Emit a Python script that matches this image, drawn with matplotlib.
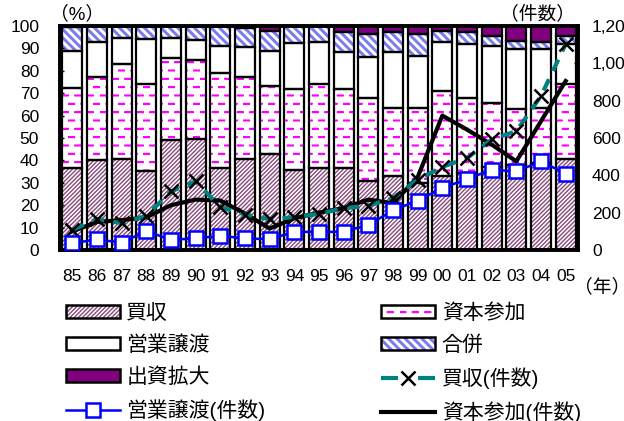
import numpy as np
import matplotlib
matplotlib.use("Agg")
import matplotlib.pyplot as plt
import matplotlib.hatch as mhatch
from matplotlib.path import Path
from matplotlib.patches import Patch
from matplotlib.lines import Line2D

plt.rcParams['font.family'] = ['Liberation Sans', 'Noto Sans CJK JP']
plt.rcParams['hatch.linewidth'] = 1.0

years = ['85', '86', '87', '88', '89', '90', '91', '92', '93', '94', '95',
         '96', '97', '98', '99', '00', '01', '02', '03', '04', '05']

# share of each form (%), stacked bottom -> top
kaishu_pct  = [36.6, 40.0, 40.5, 35.1, 49.3, 49.5, 36.6, 40.7, 43.0, 35.8, 36.4,
               36.8, 30.9, 32.9, 30.0, 33.0, 34.5, 37.0, 38.0, 39.0, 40.5]
shihon_pct  = [35.5, 37.4, 42.5, 38.9, 36.2, 35.3, 42.3, 36.5, 30.2, 35.9, 37.6,
               35.2, 37.1, 30.3, 33.2, 38.0, 33.5, 28.8, 24.8, 24.5, 33.5]
eigyo_pct   = [16.6, 15.3, 11.6, 20.2, 9.1, 9.1, 12.3, 13.4, 15.7, 20.5, 18.8,
               16.3, 18.2, 25.2, 23.5, 21.7, 23.9, 25.4, 26.9, 26.2, 18.0]
gappei_pct  = [10.8, 7.3, 5.4, 5.8, 5.4, 6.1, 8.8, 8.6, 8.9, 7.8, 7.2,
               9.0, 10.3, 8.8, 9.7, 5.2, 5.3, 4.5, 3.7, 3.3, 3.7]
shusshi_pct = [0.5, 0.0, 0.0, 0.0, 0.0, 0.0, 0.0, 0.8, 2.2, 0.0, 0.0,
               2.7, 3.5, 2.8, 3.6, 2.1, 2.8, 4.3, 6.6, 7.0, 4.3]

# number of deals (right axis)
kaishu_cnt = [108, 165, 144, 183, 314, 368, 230, 190, 165, 176, 194,
              224, 237, 278, 377, 445, 493, 592, 637, 825, 1103]
eigyo_cnt  = [36, 57, 39, 102, 54, 63, 75, 63, 57, 99, 95,
              99, 134, 212, 265, 332, 380, 430, 421, 475, 409]
shihon_cnt = [100, 150, 160, 175, 240, 270, 265, 195, 115, 170, 200,
              225, 270, 250, 390, 720, 645, 565, 475, 690, 905]


class DashRowHatch(mhatch.HatchPatternBase):
    # rows of short staggered dashes in place of full horizontal lines
    def __init__(self, hatch, density):
        self.num_rows = int((hatch.count('-') + hatch.count('+')) * density)
        self.per_row = 8
        self.offsets = (0.0, 0.007)
        self.num_vertices = self.num_rows * self.per_row * 2 * len(self.offsets)

    def set_vertices_and_codes(self, vertices, codes):
        step = 1.0 / self.per_row
        k = 0
        for r in range(self.num_rows):
            y = (r + 0.5) / self.num_rows
            shift = step / 2 if r % 2 else 0.0
            for c in range(self.per_row):
                x0 = c * step + shift
                for dy in self.offsets:
                    vertices[k] = (x0, y + dy)
                    vertices[k + 1] = (x0 + step * 0.45, y + dy)
                    codes[k] = Path.MOVETO
                    codes[k + 1] = Path.LINETO
                    k += 2


class BandHatch(mhatch.HatchPatternBase):
    # '\' stripes drawn as bands of three close lines
    def __init__(self, hatch, density):
        self.num_bands = int((hatch.count('\\') + hatch.count('x') + hatch.count('X')) * density)
        self.offsets = (-0.011, 0.0, 0.011)
        if self.num_bands:
            self.num_vertices = (2 * self.num_bands + 1) * 2 * len(self.offsets)
        else:
            self.num_vertices = 0

    def set_vertices_and_codes(self, vertices, codes):
        base = np.linspace(0.0, 2.0, 2 * self.num_bands + 1)
        k = 0
        for c in base:
            for d in self.offsets:
                cc = c + d
                vertices[k] = (cc - 1.0, 1.0)
                vertices[k + 1] = (cc, 0.0)
                codes[k] = Path.MOVETO
                codes[k + 1] = Path.LINETO
                k += 2


swap = {mhatch.HorizontalHatch: DashRowHatch, mhatch.SouthEastHatch: BandHatch}
mhatch._hatch_types = [swap.get(t, t) for t in mhatch._hatch_types]

fig = plt.figure(figsize=(6.24, 4.21), dpi=100)
ax = fig.add_axes([60 / 624, 1 - 250 / 421, 518 / 624, 224 / 421])

x = np.arange(len(years))
width = 0.8
segments = [
    (kaishu_pct, 'white', '////////', '#8A4A7C', '買収'),
    (shihon_pct, 'white', '--', '#FF00FF', '資本参加'),
    (eigyo_pct, 'white', None, 'white', '営業譲渡'),
    (gappei_pct, 'white', '\\\\', '#7C7CF2', '合併'),
    (shusshi_pct, '#800080', None, '#800080', '出資拡大'),
]

handles = {}
bottom = np.zeros(len(years))
for vals, fc, hatch, hc, name in segments:
    ax.bar(x, vals, width, bottom=bottom, color=fc, hatch=hatch,
           edgecolor=hc, linewidth=0, zorder=1)
    ax.bar(x, vals, width, bottom=bottom, color='none', edgecolor='black',
           linewidth=1.6, zorder=2)
    bottom += np.array(vals)
    handles[name] = (Patch(facecolor=fc, edgecolor=hc, hatch=hatch, linewidth=0),
                     Patch(facecolor='none', edgecolor='black', linewidth=1.8))

ax.set_xlim(-0.5, len(years) - 0.5)
ax.set_ylim(0, 100)
ax.set_yticks(range(0, 101, 10))
ax.set_xticks(x, years)
ax.tick_params(axis='y', direction='in', length=3, width=1, labelsize=12.5, pad=15)
ax.tick_params(axis='x', length=0, labelsize=12.5, pad=14)
for s in ax.spines.values():
    s.set_linewidth(2.6)

ax2 = ax.twinx()
ax2.set_ylim(0, 1200)
ax2.set_yticks(range(0, 1201, 200), ['0', '200', '400', '600', '800', '1,000', '1,200'])
ax2.tick_params(axis='y', direction='in', length=3, width=1, labelsize=12.5, pad=10)
for s in ax2.spines.values():
    s.set_linewidth(2.6)

ax2.plot(x, shihon_cnt, color='black', linewidth=3, zorder=3)
ax2.plot(x, kaishu_cnt, color='#008080', linewidth=3, linestyle=(0, (3, 2.2)),
         marker='x', markersize=10, markeredgecolor='black', markeredgewidth=1.8, zorder=4)
ax2.plot(x, eigyo_cnt, color='#0000FF', linewidth=1.8, marker='s', markersize=10,
         markerfacecolor='white', markeredgecolor='#0000FF', markeredgewidth=1.8, zorder=5)

fig.text(50 / 624, 1 - 14 / 421, '（%）', fontsize=13.5, va='center', ha='left')
fig.text(500 / 624, 1 - 14 / 421, '（件数）', fontsize=13.5, va='center', ha='left')
fig.text(574 / 624, 1 - 287 / 421, '（年）', fontsize=13.5, va='center', ha='left')

line_kaishu = Line2D([], [], color='#008080', linewidth=3, linestyle=(0, (4.1, 4.8)),
                     marker='x', markersize=10, markeredgecolor='black', markeredgewidth=1.8)
line_eigyo = Line2D([], [], color='#0000FF', linewidth=1.8, marker='s', markersize=10,
                    markerfacecolor='white', markeredgecolor='#0000FF', markeredgewidth=1.8)
line_shihon = Line2D([], [], color='black', linewidth=3)

leg_handles = [handles['買収'], handles['営業譲渡'], handles['出資拡大'], line_eigyo,
               handles['資本参加'], handles['合併'], line_kaishu, line_shihon]
leg_labels = ['買収', '営業譲渡', '出資拡大', '営業譲渡(件数)',
              '資本参加', '合併', '買収(件数)', '資本参加(件数)']
fig.legend(leg_handles, leg_labels, loc='upper left',
           bbox_to_anchor=(66 / 624, 1 - 303 / 421), ncol=2, frameon=False,
           fontsize=15, borderpad=0, borderaxespad=0, handlelength=2.6,
           handleheight=0.6, handletextpad=0.3, labelspacing=0.6,
           columnspacing=5.55)

fig.savefig('out.png', dpi=100)
